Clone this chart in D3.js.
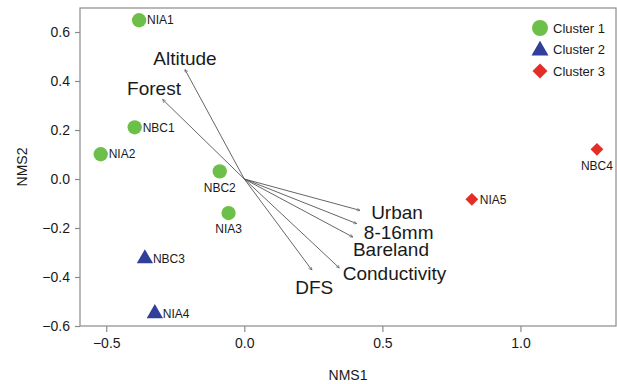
<!DOCTYPE html>
<html>
<head>
<meta charset="utf-8">
<script src="https://cdn.jsdelivr.net/npm/d3@7"></script>
<style>
  body { margin: 0; background: #fff; }
  text { font-family: "Liberation Sans", Arial, sans-serif; fill: #1a1a1a; }
</style>
</head>
<body>
<svg width="617" height="384"></svg>
<script>
// sites: NMS scores + cluster
const sites = ["NIA1", "NBC1", "NIA2", "NBC2", "NIA3", "NBC3", "NIA4", "NIA5", "NBC4"];
const nms1 = [-0.381, -0.397, -0.52, -0.089, -0.057, -0.36, -0.324, 0.824, 1.277];
const nms2 = [0.648, 0.211, 0.101, 0.031, -0.139, -0.325, -0.549, -0.083, 0.121];
const cluster = [1, 1, 1, 1, 1, 2, 2, 3, 3];
const labelBelow = ["NBC2", "NIA3", "NBC4"];

// environmental vectors
const vars = ["Altitude", "Forest", "Urban", "8-16mm", "Bareland", "Conductivity", "DFS"];
const vecX = [-0.215, -0.296, 0.419, 0.407, 0.393, 0.344, 0.245];
const vecY = [0.447, 0.325, -0.128, -0.182, -0.237, -0.363, -0.372];
const varLabX = [-0.215, -0.327, 0.553, 0.559, 0.531, 0.544, 0.253];
const varLabY = [0.492, 0.370, -0.137, -0.217, -0.286, -0.386, -0.441];

const clusters = ["Cluster 1", "Cluster 2", "Cluster 3"];
const xTicks = [-0.5, 0, 0.5, 1];
const yTicks = [-0.6, -0.4, -0.2, 0, 0.2, 0.4, 0.6];

const colors = ["#6cc04a", "#2f3f9a", "#e52d27"];
const shapes = [d3.symbolCircle, d3.symbolTriangle, d3.symbolSquare];
const rot = [0, 0, 45];

const mLeft = 80, mRight = 616, mTop = 8, mBottom = 326;
const svg = d3.select("svg");

const x = d3.scaleLinear().domain([-0.595, 1.346]).range([mLeft, mRight]);
const y = d3.scaleLinear().domain([-0.6, 0.698]).range([mBottom, mTop]);

svg.append("defs").append("marker")
    .attr("id", "arr")
    .attr("viewBox", "0 0 10 10")
    .attr("refX", 10).attr("refY", 5)
    .attr("markerWidth", 4).attr("markerHeight", 4)
    .attr("orient", "auto")
    .append("path")
    .attr("d", "M0,0 L10,5 L0,10")
    .attr("fill", "none")
    .attr("stroke", "#555")
    .attr("stroke-width", 1.5);

// box
svg.append("rect")
    .attr("x", mLeft).attr("y", mTop)
    .attr("width", mRight - mLeft).attr("height", mBottom - mTop)
    .attr("fill", "none")
    .attr("stroke", "#8a8a8a")
    .attr("stroke-width", 1.2);

const fmt = d3.format(".1f");

const xAxis = svg.append("g")
    .attr("transform", `translate(0,${mBottom})`)
    .call(d3.axisBottom(x).tickValues(xTicks).tickFormat(fmt).tickSize(6).tickPadding(6));
const yAxis = svg.append("g")
    .attr("transform", `translate(${mLeft},0)`)
    .call(d3.axisLeft(y).tickValues(yTicks).tickFormat(fmt).tickSize(5).tickPadding(5));

[xAxis, yAxis].forEach(g => {
    g.select(".domain").remove();
    g.selectAll(".tick line").attr("stroke", "#8a8a8a").attr("stroke-width", 1.2);
    g.selectAll(".tick text").style("font-size", "14px").attr("fill", "#1a1a1a");
});

svg.append("text")
    .attr("x", (mLeft + mRight) / 2).attr("y", 380)
    .attr("text-anchor", "middle")
    .style("font-size", "14px")
    .text("NMS1");

svg.append("text")
    .attr("transform", `translate(27,${(mTop + mBottom) / 2}) rotate(-90)`)
    .attr("text-anchor", "middle")
    .style("font-size", "14px")
    .text("NMS2");

// vectors
vars.forEach((v, i) => {
    svg.append("line")
        .attr("x1", x(0)).attr("y1", y(0))
        .attr("x2", x(vecX[i])).attr("y2", y(vecY[i]))
        .attr("stroke", "#555")
        .attr("stroke-width", 0.9)
        .attr("marker-end", "url(#arr)");
    svg.append("text")
        .attr("x", x(varLabX[i])).attr("y", y(varLabY[i]))
        .attr("dy", "0.35em")
        .attr("text-anchor", "middle")
        .style("font-size", "19px")
        .text(v);
});

// points
const sizes = [160, 115, 82];
sites.forEach((s, i) => {
    const c = cluster[i] - 1;
    svg.append("path")
        .attr("d", d3.symbol().type(shapes[c]).size(sizes[c])())
        .attr("transform", `translate(${x(nms1[i])},${y(nms2[i])}) rotate(${rot[c]})`)
        .attr("fill", colors[c]);
    const below = labelBelow.includes(s);
    svg.append("text")
        .attr("x", below ? x(nms1[i]) : x(nms1[i]) + 8)
        .attr("y", below ? y(nms2[i]) + 16 : y(nms2[i]))
        .attr("dy", "0.35em")
        .attr("text-anchor", below ? "middle" : "start")
        .style("font-size", "12px")
        .text(s);
});

// legend
const leg = svg.append("g").attr("transform", "translate(540,28)");
clusters.forEach((c, i) => {
    leg.append("path")
        .attr("d", d3.symbol().type(shapes[i]).size([200, 125, 112][i])())
        .attr("transform", `translate(0,${i * 21.5 + (i === 1 ? 1 : 0)}) rotate(${rot[i]})`)
        .attr("fill", colors[i]);
    leg.append("text")
        .attr("x", 13).attr("y", i * 21.5)
        .attr("dy", "0.35em")
        .style("font-size", "13px")
        .text(c);
});
</script>
</body>
</html>
